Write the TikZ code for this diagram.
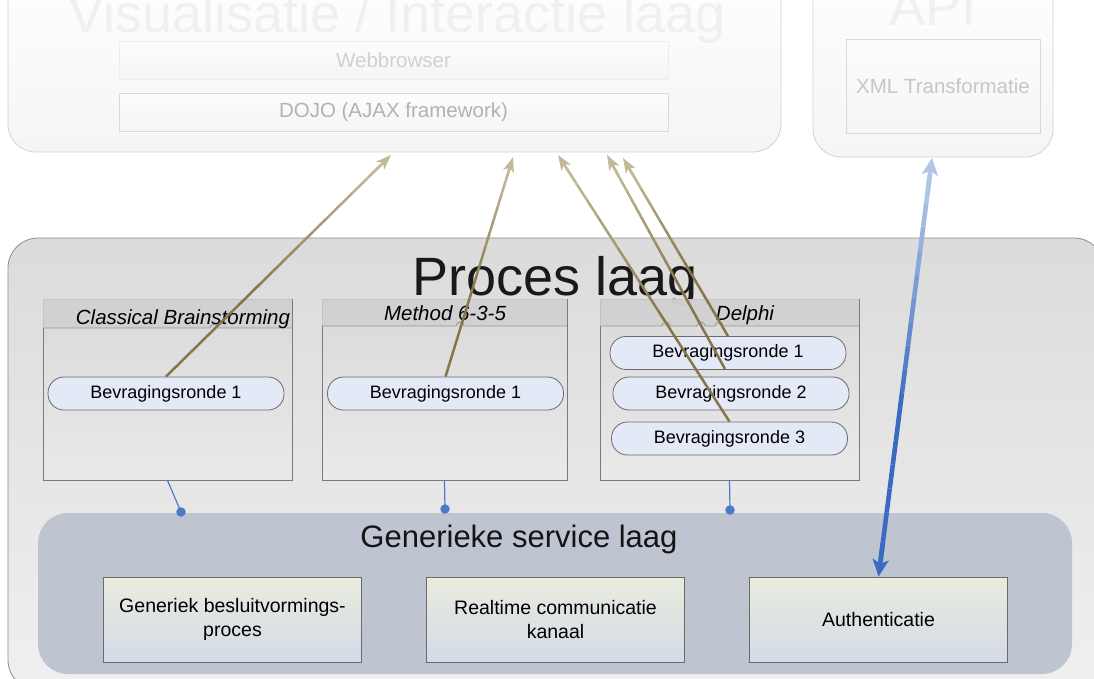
\documentclass[tikz,border=0pt]{standalone}
\usepackage{fontspec}
\setmainfont{Liberation Sans}
\usetikzlibrary{arrows.meta,calc}

\definecolor{tandark}{HTML}{85764A}
\definecolor{tanlight}{HTML}{C2B999}
\definecolor{bluedark}{HTML}{3A6BC0}
\definecolor{bluelight}{HTML}{AFC6E6}
\definecolor{linkblue}{HTML}{4A7CC6}
\definecolor{faintline}{HTML}{D2D2D2}
\definecolor{fainttext}{HTML}{F0F0F0}
\definecolor{procline}{HTML}{8C8C8C}
\definecolor{boxline}{HTML}{7A7A7A}
\definecolor{headfill}{HTML}{D0D0D0}
\definecolor{pillfill}{HTML}{E3E9F6}
\definecolor{servfill}{HTML}{BEC5D1}
\definecolor{unittop}{HTML}{E9ECDC}
\definecolor{unitbot}{HTML}{D4DAE8}

% a straight connector whose colour stays #3 for its first part (from #1),
% then fades to #4 towards #2; drawn between fractions #6 and #7 of the way
\newcommand\fadedlink[7]{%
  \foreach \k in {0,...,15}{%
    \pgfmathsetmacro\ta{#6+(#7-#6)*\k/16}%
    \pgfmathsetmacro\tb{#6+(#7-#6)*(\k+1)/16}%
    \pgfmathtruncatemacro\mix{\k<6 ? 100 : 100-(\k-6)*100/9}%
    \draw[line width=#5, draw=#3!\mix!#4] ($(#1)!\ta!(#2)$) -- ($(#1)!\tb!(#2)$);
  }%
}

\tikzset{
  faintlayer/.style={draw=faintline, line width=0.8pt, rounded corners=28pt,
    top color=white, bottom color=black!4, inner sep=0pt},
  proclayer/.style={draw=procline, line width=0.8pt, rounded corners=30pt,
    top color=black!14, bottom color=black!6, inner sep=0pt},
  servlayer/.style={fill=servfill, rounded corners=30pt, inner sep=0pt,
    minimum width=1034pt, minimum height=161pt},
  webbox/.style={draw=black!7, line width=0.8pt, top color=black!1, bottom color=black!4,
    minimum width=549pt, minimum height=38pt, inner sep=0pt,
    font=\fontsize{20.5}{24}\selectfont},
  methodbox/.style={draw=boxline, line width=0.9pt, top color=black!15, bottom color=black!8,
    fill opacity=0.85, text opacity=1, minimum height=181pt, inner sep=0pt},
  headband/.style={fill=headfill, fill opacity=0.85},
  sepline/.style={draw=boxline!80, line width=0.8pt},
  methodtitle/.style={anchor=base, font=\fontsize{20.5}{24}\selectfont\itshape},
  pill/.style={draw=black!58, line width=0.8pt, fill=pillfill, rounded corners=16pt,
    minimum width=236pt, minimum height=33pt, inner sep=0pt,
    font=\fontsize{18}{22}\selectfont},
  unitbox/.style={draw=black!58, line width=0.8pt, top color=unittop, bottom color=unitbot,
    minimum width=258pt, minimum height=85pt, inner sep=0pt, align=center,
    font=\fontsize{19.5}{24}\selectfont},
  bigtitle/.style={anchor=base, font=\fontsize{54}{60}\selectfont},
  linkdot/.style={circle, fill=linkblue, minimum size=9.5pt, inner sep=0pt},
  link/.style={draw=linkblue, line width=1.2pt},
  tanhead/.style={-{Stealth[length=15pt, width=11pt, inset=4pt]}, draw=tanlight, line width=2.5pt},
  bluehead/.style={line width=4.6pt},
}

\begin{document}
\begin{tikzpicture}[x=1pt, y=-1pt]
\useasboundingbox (0,0) rectangle (1094,679);
\clip (0,0) rectangle (1094,679);
\fill[white] (0,0) rectangle (1094,679);

% ---------- visualisation / interaction layer ----------
\node[faintlayer, minimum width=773pt, minimum height=192pt] (vis) at (394.5,56) {};
\node[bigtitle, text=fainttext] (vistitle) at (397,33) {Visualisatie / Interactie laag};
\node[webbox, text=black!18] (web) at (393.5,60) {Webbrowser};
\node[webbox, draw=black!15, text=black!30] (dojo) at (393.5,112) {DOJO (AJAX framework)};

% ---------- API layer ----------
\node[faintlayer, minimum width=240pt, minimum height=197pt] (api) at (933,58.5) {};
\node[bigtitle, text=fainttext] (apititle) at (933,26) {API};
\node[webbox, draw=black!15, text=black!22, minimum width=194pt, minimum height=94pt] (xml) at (943,86) {XML Transformatie};

% ---------- process layer ----------
\node[proclayer, minimum width=1096pt, minimum height=452pt] (proc) at (556,464) {};
\node[bigtitle, text=black!90] (proctitle) at (555,295) {Proces laag};

% method containers
\node[methodbox, minimum width=249pt] (cb) at (167.5,389.5) {};
\node[methodbox, minimum width=245pt] (mb) at (444.5,389.5) {};
\node[methodbox, minimum width=259pt] (db) at (729.5,389.5) {};

\fill[headband] (cb.north west) rectangle (292,328);
\fill[headband] (mb.north west) rectangle (567,326);
\fill[headband] (db.north west) rectangle (859,326);

% header separators, with small jumps where connectors cross
\draw[sepline] (43,328) -- (210,328) arc[start angle=180, end angle=0, radius=4pt] -- (292,328);
\draw[sepline] (322,326) -- (456,326) arc[start angle=180, end angle=0, radius=4pt] -- (567,326);
\draw[sepline] (600,326) -- (662,326) arc[start angle=180, end angle=0, radius=4pt]
  -- (697,326) arc[start angle=180, end angle=0, radius=4pt]
  -- (715,326) arc[start angle=180, end angle=0, radius=4pt] -- (859,326);

\node[methodtitle] (cbt) at (183,324) {Classical Brainstorming};
\node[methodtitle] (mbt) at (445,320) {Method 6-3-5};
\node[methodtitle] (dbt) at (745,320) {Delphi};

% question rounds
\node[pill] (p1) at (166,393.5) {Bevragingsronde 1};
\node[pill] (p2) at (445.5,393.5) {Bevragingsronde 1};
\node[pill] (d1) at (728,353) {Bevragingsronde 1};
\node[pill] (d2) at (731,393.5) {Bevragingsronde 2};
\node[pill] (d3) at (729.5,438.5) {Bevragingsronde 3};

% ---------- generic service layer ----------
\node[servlayer] (gen) at (555,593.5) {};
\node[anchor=base, font=\fontsize{31}{36}\selectfont, text=black!92] (gentitle) at (519,547) {Generieke service laag};
\node[unitbox] (u1) at (232.5,619.5) {Generiek besluitvormings-\\proces};
\node[unitbox] (u2) at (555.5,619.5) {Realtime communicatie\\kanaal};
\node[unitbox] (u3) at (878.5,619.5) {Authenticatie};

% method containers plug into the service layer
\node[linkdot] (g1) at (181,512) {};
\node[linkdot] (g2) at (445,509) {};
\node[linkdot] (g3) at (730,510) {};
\draw[link] (cb.south) -- (g1.center);
\draw[link] (mb.south) -- (g2.center);
\draw[link] (db.south) -- (g3.center);

% ---------- rounds talk to the front end ----------
\coordinate (v1) at (391,155);
\coordinate (v2) at (513,157);
\coordinate (v3) at (558,155);
\coordinate (v4) at (607,155);
\coordinate (v5) at (623,158);
\coordinate (d2top) at (725,369);

\fadedlink{p1.north}{v1}{tandark}{tanlight}{2.5pt}{0}{0.95}
\draw[tanhead] ($(p1.north)!0.9!(v1)$) -- (v1);
\fadedlink{p2.north}{v2}{tandark}{tanlight}{2.5pt}{0}{0.95}
\draw[tanhead] ($(p2.north)!0.9!(v2)$) -- (v2);
\fadedlink{d3.north}{v3}{tandark}{tanlight}{2.5pt}{0}{0.95}
\draw[tanhead] ($(d3.north)!0.9!(v3)$) -- (v3);
\fadedlink{d2top}{v4}{tandark}{tanlight}{2.5pt}{0}{0.95}
\draw[tanhead] ($(d2top)!0.9!(v4)$) -- (v4);
\fadedlink{d1.north}{v5}{tandark}{tanlight}{2.5pt}{0}{0.95}
\draw[tanhead] ($(d1.north)!0.9!(v5)$) -- (v5);

% ---------- authentication <-> API ----------
\coordinate (apiin) at (932,158);
\fadedlink{u3.north}{apiin}{bluedark}{bluelight}{4.6pt}{0.04}{0.95}
\draw[bluehead, {Stealth[length=17pt, width=16pt, inset=4pt]}-, draw=bluedark] (u3.north) -- ($(u3.north)!0.08!(apiin)$);
\draw[bluehead, -{Stealth[length=17pt, width=16pt, inset=4pt]}, draw=bluelight] ($(u3.north)!0.92!(apiin)$) -- (apiin);
\end{tikzpicture}
\end{document}
